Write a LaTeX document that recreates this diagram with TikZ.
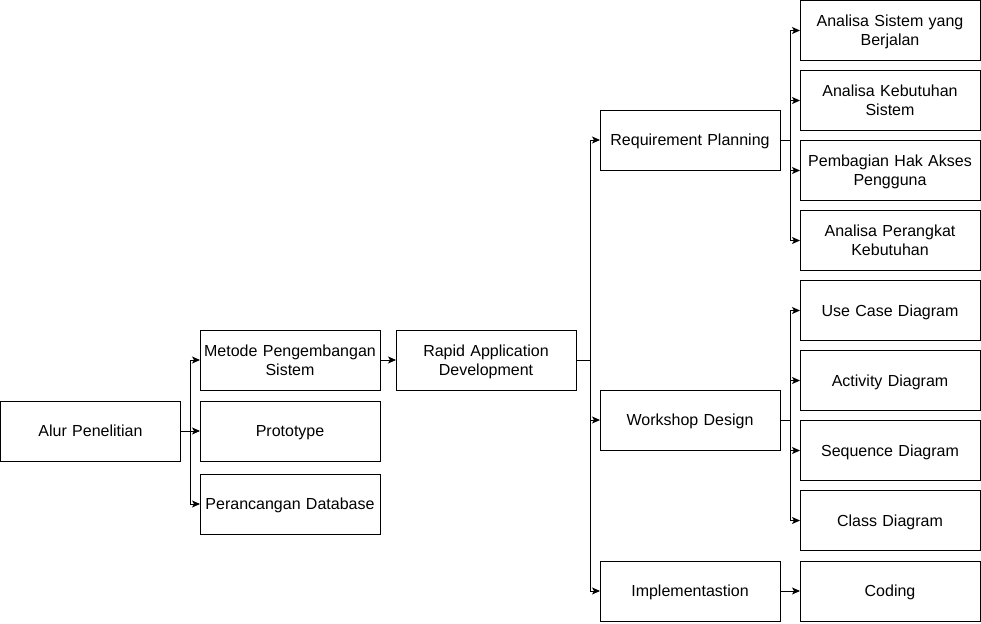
\documentclass[tikz,border=0pt]{standalone}
\usepackage{fontspec}
\setmainfont{Liberation Sans}
\usetikzlibrary{arrows.meta, positioning}
\newcommand{\linestrut}{\rule[-3.95pt]{0pt}{19pt}}
\tikzstyle{process} = [rectangle, minimum width=180pt, minimum height=60pt, text width=176pt, align=center, inner sep=0pt, outer sep=0pt, draw=black, line width=0.9pt, font=\fontsize{16}{19}\selectfont, execute at begin node=\linestrut, execute at end node=\linestrut]
\tikzstyle{arrow} = [line width=0.9pt, -{Stealth[length=8pt, width=7pt, inset=2pt]}]

\begin{document}
\begin{tikzpicture}[x=1pt, y=-1pt]
\useasboundingbox (0,0) rectangle (981,623);

\node (alur) [process] at (90.5,431) {Alur Penelitian};
\node (metode) [process] at (290,360) {Metode Pengembangan\\Sistem};
\node (prototype) [process] at (290,431) {Prototype};
\node (database) [process] at (290,504) {Perancangan Database};
\node (rad) [process] at (486,360) {Rapid Application\\Development};

\node (reqplan) [process] at (690,140) {Requirement Planning};
\node (workshop) [process] at (690,420) {Workshop Design};
\node (implement) [process] at (690,591) {Implementastion};

\node (sistemjalan) [process] at (890,30.5) {Analisa Sistem yang\\Berjalan};
\node (kebutuhan) [process, below=10pt of sistemjalan] {Analisa Kebutuhan\\Sistem};
\node (hakakses) [process, below=10pt of kebutuhan] {Pembagian Hak Akses\\Pengguna};
\node (perangkat) [process, below=10pt of hakakses] {Analisa Perangkat\\Kebutuhan};
\node (usecase) [process, below=10pt of perangkat] {Use Case Diagram};
\node (activity) [process, below=10pt of usecase] {Activity Diagram};
\node (sequence) [process, below=10pt of activity] {Sequence Diagram};
\node (classdiag) [process, below=10pt of sequence] {Class Diagram};
\node (coding) [process] at (890,591) {Coding};

\draw [arrow] (alur.east) -- ++(10,0) |- (metode.west);
\draw [arrow] (alur) -- (prototype);
\draw [arrow] (alur.east) -- ++(10,0) |- (database.west);

\draw [arrow] (metode) -- (rad);

\draw [arrow] (rad.east) -- ++(14,0) |- (reqplan.west);
\draw [arrow] (rad.east) -- ++(14,0) |- (workshop.west);
\draw [arrow] (rad.east) -- ++(14,0) |- (implement.west);

\draw [arrow] (reqplan.east) -- ++(10,0) |- (sistemjalan.west);
\draw [arrow] (reqplan.east) -- ++(10,0) |- (kebutuhan.west);
\draw [arrow] (reqplan.east) -- ++(10,0) |- (hakakses.west);
\draw [arrow] (reqplan.east) -- ++(10,0) |- (perangkat.west);

\draw [arrow] (workshop.east) -- ++(10,0) |- (usecase.west);
\draw [arrow] (workshop.east) -- ++(10,0) |- (activity.west);
\draw [arrow] (workshop.east) -- ++(10,0) |- (sequence.west);
\draw [arrow] (workshop.east) -- ++(10,0) |- (classdiag.west);

\draw [arrow] (implement) -- (coding);

\end{tikzpicture}
\end{document}
